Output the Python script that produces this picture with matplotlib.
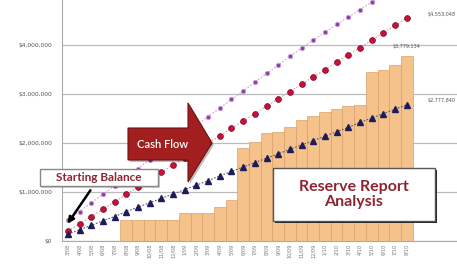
import matplotlib.pyplot as plt
from matplotlib.patches import Polygon, Rectangle

# tick labels (months), 30 periods
periods = ["3/08", "4/08", "5/08", "6/08", "7/08", "8/08", "9/08", "10/08", "11/08", "12/08",
           "1/09", "2/09", "3/09", "4/09", "5/09", "6/09", "7/09", "8/09", "9/09", "10/09",
           "11/09", "12/09", "1/10", "2/10", "3/10", "4/10", "5/10", "6/10", "7/10", "8/10"]

# reserve balance bars ($M)
reserve = [0, 0, 0, 0, 0, 0.43, 0.43, 0.43, 0.43, 0.43,
           0.57, 0.57, 0.57, 0.70, 0.84, 1.90, 2.02, 2.20, 2.23, 2.33,
           2.47, 2.56, 2.63, 2.70, 2.75, 2.77, 3.45, 3.50, 3.60, 3.78]

# three projection lines ($M)
fast = [0.42, 0.60, 0.78, 0.95, 1.13, 1.30, 1.48, 1.66, 1.83, 2.01,
        2.18, 2.36, 2.54, 2.71, 2.89, 3.06, 3.24, 3.42, 3.59, 3.77,
        3.94, 4.10, 4.26, 4.42, 4.57, 4.72, 4.88, 5.04, 5.20, 5.36]
mid = [0.20, 0.35, 0.50, 0.65, 0.80, 0.95, 1.10, 1.25, 1.40, 1.55,
       1.70, 1.85, 2.00, 2.15, 2.30, 2.45, 2.60, 2.75, 2.90, 3.05,
       3.20, 3.35, 3.50, 3.65, 3.80, 3.95, 4.10, 4.25, 4.40, 4.55]
slow = [0.14, 0.23, 0.32, 0.41, 0.50, 0.60, 0.69, 0.78, 0.87, 0.96,
        1.05, 1.14, 1.23, 1.33, 1.42, 1.51, 1.60, 1.69, 1.78, 1.87,
        1.96, 2.05, 2.14, 2.23, 2.32, 2.42, 2.51, 2.60, 2.69, 2.78]

yticks = [0, 1, 2, 3, 4]
ylabels = ["$0", "$1,000,000", "$2,000,000", "$3,000,000", "$4,000,000"]

W, H = 457, 264
fig = plt.figure(figsize=(W / 100, H / 100), dpi=100)
ax = fig.add_axes([62 / W, 23 / H, 1 - 62 / W, 241 / H])

x = list(range(len(periods)))
ax.bar(x, reserve, width=1.0, color="#F6C28C", edgecolor="#D9A16B", linewidth=0.5, zorder=2)

ax.plot(x, fast, linestyle=(0, (1.5, 1.5)), color="#D8A0D0", linewidth=0.8,
        marker="o", markersize=3.2, markerfacecolor="#8E3FA6", markeredgecolor="#C9A0D8",
        markeredgewidth=0.6, zorder=3)
ax.plot(x, mid, linestyle=(0, (1.5, 1.5)), color="#D9A0A8", linewidth=0.8,
        marker="o", markersize=4.2, markerfacecolor="#C8103C", markeredgecolor="#7A0A20",
        markeredgewidth=0.5, zorder=3)
ax.plot(x, slow, linestyle=(0, (1.5, 1.5)), color="#555577", linewidth=0.8,
        marker="^", markersize=3.8, markerfacecolor="#1C1C5A", markeredgecolor="#1C1C5A",
        zorder=3)

ax.set_xlim(-0.5, 33.3)
ax.set_ylim(0, 4.92)
ax.set_yticks(yticks)
ax.set_yticklabels(ylabels, fontsize=4.3, color="#555555")
ax.set_xticks(x)
ax.set_xticklabels(periods, rotation=90, fontsize=3.6, color="#777777")
ax.tick_params(length=0, pad=2)
ax.tick_params(axis="y", pad=7)
ax.grid(axis="y", color="#BBBBBB", linewidth=0.9, zorder=0)
ax.set_axisbelow(True)
for s in ["top", "right"]:
    ax.spines[s].set_visible(False)
ax.spines["left"].set_color("#AAAAAA")
ax.spines["bottom"].set_color("#AAAAAA")

# end-of-line value labels
ax.text(32.0, mid[-1] + 0.08, "$4,553,048", fontsize=3.5, color="#555555", ha="center", va="center")
ax.text(29.0, reserve[-1] + 0.2, "$3,779,134", fontsize=3.5, color="#555555", ha="center", va="center")
ax.text(32.0, slow[-1] + 0.08, "$2,777,840", fontsize=3.5, color="#555555", ha="center", va="center")


def fx(px):
    return px / W


def fy(py):
    return 1 - py / H


# Cash Flow block arrow
pts = [(128, 128), (188, 128), (188, 103), (212, 143), (188, 182), (188, 160), (128, 160)]
shadow = Polygon([(fx(a + 2), fy(b + 2)) for a, b in pts], closed=True,
                 transform=fig.transFigure, facecolor="#00000040", edgecolor="none", zorder=5)
arrow = Polygon([(fx(a), fy(b)) for a, b in pts], closed=True,
                transform=fig.transFigure, facecolor="#A31E1E", edgecolor="#6E1010",
                linewidth=0.8, zorder=6)
fig.patches.extend([shadow, arrow])
fig.text(fx(163), fy(144), "Cash Flow", color="white", fontsize=8, family="Lato",
         fontweight="semibold", ha="center", va="center", zorder=7)

# Starting Balance callout
fig.patches.append(Rectangle((fx(42), fy(188)), fx(158) - fx(40), fy(170) - fy(188),
                             transform=fig.transFigure, facecolor="#00000030",
                             edgecolor="none", zorder=5))
fig.patches.append(Rectangle((fx(40), fy(186)), fx(158) - fx(40), fy(169) - fy(186),
                             transform=fig.transFigure, facecolor="white",
                             edgecolor="#888888", linewidth=1.0, zorder=6))
fig.text(fx(99), fy(177.5), "Starting Balance", color="#8E2430", fontsize=8.5,
         family="Lato", fontweight="bold", ha="center", va="center", zorder=7)
ax.annotate("", xy=(fx(66), fy(226)), xytext=(fx(92), fy(188)),
            xycoords="figure fraction", textcoords="figure fraction",
            arrowprops=dict(arrowstyle="-|>", color="black", lw=1.8, mutation_scale=9),
            zorder=8)

# Reserve Report Analysis box
fig.patches.append(Rectangle((fx(275), fy(223)), fx(435) - fx(273), fy(168) - fy(221),
                             transform=fig.transFigure, facecolor="#222222",
                             edgecolor="none", zorder=5))
fig.patches.append(Rectangle((fx(273), fy(221)), fx(435) - fx(273), fy(168) - fy(221),
                             transform=fig.transFigure, facecolor="white",
                             edgecolor="#555555", linewidth=1.0, zorder=6))
fig.text(fx(354), fy(194.5), "Reserve Report\nAnalysis", color="#8E2430", fontsize=11.5,
         family="Lato", fontweight="bold", ha="center", va="center", linespacing=1.1,
         zorder=7)

fig.savefig("out.png", dpi=100)
